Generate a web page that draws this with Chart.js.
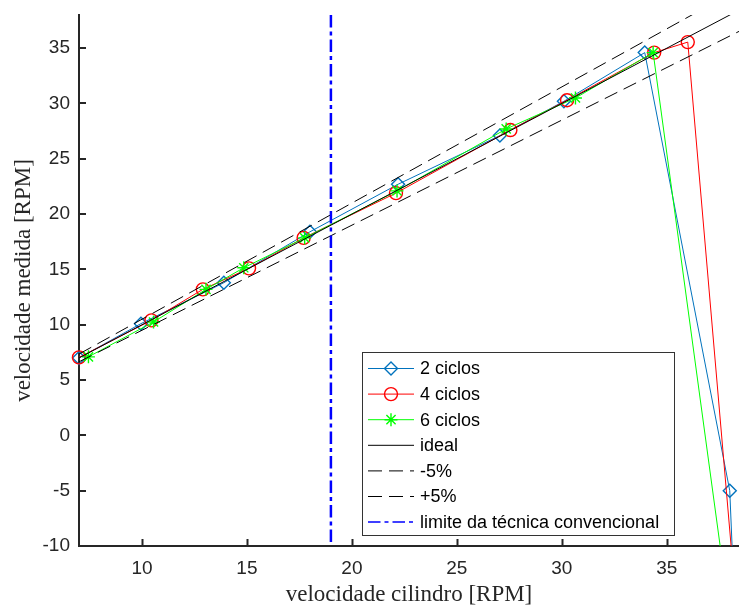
<!DOCTYPE html>
<html>
<head>
    <title>velocidade medida x velocidade cilindro</title>
    <script src="https://cdn.jsdelivr.net/npm/chart.js"></script>
    <style>
        body {
            margin: 0;
            background: #fff;
        }
        .chart-container {
            position: relative;
            width: 739px;
            height: 609px;
        }
    </style>
</head>
<body>
    <div class="chart-container">
        <canvas id="myChart"></canvas>
    </div>

    <script>
        // measured series (x = velocidade cilindro, y = velocidade medida)
        const x2 = [7.0, 9.95, 13.9, 18.0, 22.2, 27.05, 30.1, 33.95, 38.0, 38.2];
        const y2 = [7.0, 10.1, 13.8, 18.4, 22.7, 27.1, 30.2, 34.6, -5.0, -14.0];

        const x4 = [7.0, 10.45, 12.9, 15.1, 17.7, 22.1, 27.55, 30.25, 34.4, 36.0, 38.2];
        const y4 = [7.05, 10.4, 13.2, 15.1, 17.85, 21.9, 27.6, 30.3, 34.6, 35.55, -13.0];

        const x6 = [7.45, 10.55, 13.05, 14.85, 17.75, 22.15, 27.35, 30.65, 34.35, 37.8];
        const y6 = [7.1, 10.25, 13.2, 15.15, 17.85, 22.1, 27.7, 30.5, 34.6, -13.6];

        // reference lines
        const refX = [7, 40];
        const idealY = [7, 40];
        const minus5Y = [6.65, 38];   // 0.95 * x
        const plus5Y = [7.35, 42];    // 1.05 * x
        const limitX = [19, 19];
        const limitY = [38, -10];

        const xTickValues = [10, 15, 20, 25, 30, 35];
        const yTickValues = [-10, -5, 0, 5, 10, 15, 20, 25, 30, 35];

        const pts = (xs, ys) => xs.map((x, i) => ({ x: x, y: ys[i] }));

        const AXIS_COLOR = '#262626';

        const datasets = [
            {
                label: '2 ciclos',
                data: pts(x2, y2),
                borderColor: '#0072BD',
                borderWidth: 1,
                pointStyle: 'rectRot',
                pointRadius: 6.5,
                pointBorderWidth: 1.4,
                pointBackgroundColor: 'rgba(0,0,0,0)',
                order: 6
            },
            {
                label: '4 ciclos',
                data: pts(x4, y4),
                borderColor: '#FF0000',
                borderWidth: 1,
                pointStyle: 'circle',
                pointRadius: 6.5,
                pointBorderWidth: 1.4,
                pointBackgroundColor: 'rgba(0,0,0,0)',
                order: 5
            },
            {
                label: '6 ciclos',
                data: pts(x6, y6),
                borderColor: '#00FF00',
                borderWidth: 1,
                pointStyle: 'star',
                pointRadius: 6.5,
                pointBorderWidth: 1.4,
                pointBackgroundColor: 'rgba(0,0,0,0)',
                order: 4
            },
            {
                label: 'ideal',
                data: pts(refX, idealY),
                borderColor: '#000000',
                borderWidth: 1,
                pointRadius: 0,
                order: 3
            },
            {
                label: '-5%',
                data: pts(refX, minus5Y),
                borderColor: '#000000',
                borderWidth: 1,
                borderDash: [14, 7],
                pointRadius: 0,
                order: 2
            },
            {
                label: '+5%',
                data: pts(refX, plus5Y),
                borderColor: '#000000',
                borderWidth: 1,
                borderDash: [14, 7],
                pointRadius: 0,
                order: 1
            },
            {
                label: 'limite da técnica convencional',
                data: pts(limitX, limitY),
                borderColor: '#0000FF',
                borderWidth: 2.5,
                borderDash: [12.5, 4, 4, 4],
                pointRadius: 0,
                order: 0
            }
        ];
        datasets.forEach(d => {
            d.showLine = true;
            d.fill = false;
            d.tension = 0;
            d.clip = { left: 10, top: 0, right: 0, bottom: 0 };
        });

        // MATLAB style ticks pointing into the plot
        const inwardTicks = {
            id: 'inwardTicks',
            afterDraw(chart) {
                const ctx = chart.ctx;
                const area = chart.chartArea;
                const len = 7;
                ctx.save();
                ctx.strokeStyle = AXIS_COLOR;
                ctx.lineWidth = 2;
                ctx.beginPath();
                const xs = chart.scales.x;
                xs.ticks.forEach((t, i) => {
                    const px = Math.round(xs.getPixelForTick(i)) + 0.5;
                    ctx.moveTo(px, area.bottom);
                    ctx.lineTo(px, area.bottom - len);
                });
                const ys = chart.scales.y;
                ys.ticks.forEach((t, i) => {
                    const py = Math.round(ys.getPixelForTick(i));
                    ctx.moveTo(area.left, py);
                    ctx.lineTo(area.left + len, py);
                });
                ctx.stroke();
                ctx.restore();
            }
        };

        // boxed legend inside the plot, lower right
        const boxLegend = {
            id: 'boxLegend',
            afterDraw(chart) {
                const ctx = chart.ctx;
                const area = chart.chartArea;
                const boxW = 312, boxH = 183;
                const bx = area.right - 65 - boxW;
                const by = area.bottom - 11 - boxH;
                ctx.save();
                ctx.fillStyle = '#ffffff';
                ctx.fillRect(bx, by, boxW, boxH);
                ctx.strokeStyle = '#333333';
                ctx.lineWidth = 1;
                ctx.strokeRect(Math.round(bx) + 0.5, Math.round(by) + 0.5, boxW, boxH);

                ctx.font = '18px "Liberation Sans", Arial, sans-serif';
                ctx.textBaseline = 'middle';
                ctx.textAlign = 'left';
                chart.data.datasets.forEach((ds, i) => {
                    const cy = by + 16.5 + i * 25.6;
                    const x0 = bx + 6, x1 = bx + 52;
                    ctx.save();
                    ctx.strokeStyle = ds.borderColor;
                    ctx.lineWidth = Math.min(ds.borderWidth, 1.5);
                    ctx.setLineDash(ds.borderDash || []);
                    ctx.beginPath();
                    ctx.moveTo(x0, cy);
                    ctx.lineTo(x1, cy);
                    ctx.stroke();
                    ctx.restore();
                    if (ds.pointRadius > 0) {
                        ctx.save();
                        ctx.strokeStyle = ds.borderColor;
                        ctx.fillStyle = 'rgba(0,0,0,0)';
                        ctx.lineWidth = ds.pointBorderWidth;
                        Chart.helpers.drawPoint(ctx, {
                            pointStyle: ds.pointStyle,
                            radius: ds.pointRadius,
                            rotation: 0,
                            borderWidth: ds.pointBorderWidth
                        }, (x0 + x1) / 2, cy);
                        ctx.restore();
                    }
                    ctx.fillStyle = '#000000';
                    ctx.fillText(ds.label, bx + 58, cy + 1);
                });
                ctx.restore();
            }
        };

        Chart.defaults.font.family = '"Liberation Sans", Arial, sans-serif';

        new Chart(document.getElementById('myChart'), {
            type: 'scatter',
            data: { datasets: datasets },
            options: {
                responsive: true,
                maintainAspectRatio: false,
                animation: false,
                events: [],
                layout: {
                    autoPadding: false,
                    padding: { left: 0, right: 0, top: 15, bottom: 0 }
                },
                scales: {
                    x: {
                        type: 'linear',
                        min: 7,
                        max: 38.44,
                        afterBuildTicks: s => { s.ticks = xTickValues.map(v => ({ value: v })); },
                        afterFit: s => { s.height = 63; s.paddingLeft = 0; s.paddingRight = 0; },
                        grid: { display: false, drawTicks: false },
                        border: { display: true, color: AXIS_COLOR, width: 2 },
                        ticks: {
                            color: AXIS_COLOR,
                            font: { size: 19 },
                            padding: 11,
                            maxRotation: 0,
                            autoSkip: false
                        },
                        title: {
                            display: true,
                            text: 'velocidade cilindro [RPM]',
                            color: AXIS_COLOR,
                            font: { family: '"Liberation Serif", "Times New Roman", serif', size: 23 },
                            padding: { top: 0, bottom: 0 }
                        }
                    },
                    y: {
                        type: 'linear',
                        min: -10,
                        max: 38,
                        afterBuildTicks: s => { s.ticks = yTickValues.map(v => ({ value: v })); },
                        afterFit: s => { s.width = 79; s.paddingTop = 0; s.paddingBottom = 0; },
                        grid: { display: false, drawTicks: false },
                        border: { display: true, color: AXIS_COLOR, width: 2 },
                        ticks: {
                            color: AXIS_COLOR,
                            font: { size: 19 },
                            padding: 9,
                            autoSkip: false
                        },
                        title: {
                            display: true,
                            text: 'velocidade medida [RPM]',
                            color: AXIS_COLOR,
                            font: { family: '"Liberation Serif", "Times New Roman", serif', size: 23 },
                            padding: { top: 10, bottom: 0 }
                        }
                    }
                },
                plugins: {
                    legend: { display: false },
                    tooltip: { enabled: false }
                }
            },
            plugins: [inwardTicks, boxLegend]
        });
    </script>
</body>
</html>
